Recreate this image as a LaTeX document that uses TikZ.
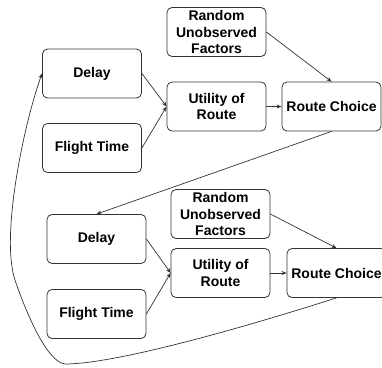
\documentclass[tikz,border=0pt]{standalone}
\usepackage{fontspec}
\setmainfont{Liberation Sans}
\usetikzlibrary{arrows.meta}
\begin{document}
\begin{tikzpicture}[x=1pt,y=-1pt,
  box/.style={draw=black!80,line width=0.8pt,rounded corners=5pt,minimum width=99pt,minimum height=49pt,inner sep=0pt,align=center,font=\fontsize{14}{16.7}\selectfont\bfseries},
  conn/.style={draw=black!80,line width=0.7pt,-{Stealth[length=5pt,width=4pt]}}]
\useasboundingbox (0,0) rectangle (382,367);
\node[box] (R1) at (216.5,32) {Random\\Unobserved\\Factors};
\node[box] (D1) at (92,73.5) {Delay};
\node[box] (F1) at (92,148) {Flight Time};
\node[box] (U1) at (216.5,106.5) {Utility of\\Route};
\node[box] (C1) at (331.5,106.5) {Route Choice};
\node[box] (R2) at (220.5,214) {Random\\Unobserved\\Factors};
\node[box] (D2) at (96.5,239) {Delay};
\node[box] (F2) at (96.5,314) {Flight Time};
\node[box] (U2) at (220.5,273) {Utility of\\Route};
\node[box] (C2) at (336.5,273) {Route Choice};
\draw[conn] (D1.east) -- (U1.west);
\draw[conn] (F1.east) -- (U1.west);
\draw[conn] (U1.east) -- (C1.west);
\draw[conn] (R1.east) -- (C1.north);
\draw[conn] (C1.south) -- (D2.north);
\draw[conn] (D2.east) -- (U2.west);
\draw[conn] (F2.east) -- (U2.west);
\draw[conn] (U2.east) -- (C2.west);
\draw[conn] (R2.east) -- (C2.north);
\draw[conn] (C2.south) .. controls (220,335) and (110,364) .. (65,364)
  .. controls (45,362) and (22,301) .. (15,280)
  .. controls (0,235) and (25,120) .. (D1.west);
\end{tikzpicture}
\end{document}
